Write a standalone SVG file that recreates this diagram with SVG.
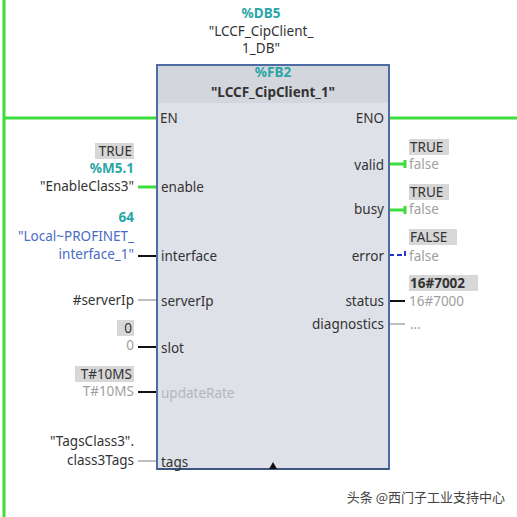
<svg xmlns="http://www.w3.org/2000/svg" width="517" height="517" viewBox="0 0 517 517">
<style>
text{font-family:"Noto Sans","Liberation Sans",sans-serif;font-size:13.5px;fill:#333}
.r{text-anchor:end}
.m{text-anchor:middle}
.teal{fill:#2aa6a6}
.blue{fill:#4a6cc4}
.gray{fill:#a0a0a0}
.dis{fill:#b4b6bc}
.box{fill:#d7d7d7}
.g{stroke:#3ddc3d;stroke-width:3;fill:none}
.k{stroke:#111;stroke-width:2;fill:none}
.lg{stroke:#a8a8a8;stroke-width:1.5;fill:none}
.bl{stroke:#2233cc;stroke-width:2;fill:none}
</style>
<rect width="517" height="517" fill="#fff"/>
<g id="connectors">
<line class="g" x1="4" y1="0" x2="4" y2="517"/>
<line class="g" x1="4" y1="118" x2="157" y2="118"/>
<line class="g" x1="389" y1="118" x2="517" y2="118"/>
<line class="g" x1="138" y1="187" x2="157" y2="187"/>
<line class="k" x1="138" y1="256" x2="157" y2="256"/>
<line class="lg" x1="138" y1="300" x2="157" y2="300"/>
<line class="k" x1="138" y1="347" x2="157" y2="347"/>
<line class="k" x1="138" y1="392" x2="157" y2="392"/>
<line class="lg" x1="138" y1="461" x2="157" y2="461"/>
<path class="g" d="M389 164H405M405 160V168"/>
<path class="g" d="M389 210H405M405 206V214"/>
<path class="bl" d="M389 255H405M405 251V259" stroke-dasharray="5 3"/>
<line class="k" x1="389" y1="301" x2="405" y2="301"/>
<line class="lg" x1="389" y1="324" x2="405" y2="324"/>
</g>
<g id="block">
<rect x="157" y="65" width="232" height="404" fill="#dfe1e8" stroke="#4d6ca3" stroke-width="2"/>
<rect x="158" y="66" width="230" height="37" fill="#d3d6dd"/>
<line x1="157" y1="469" x2="389" y2="469" stroke="#3f5585" stroke-width="2"/>
<text class="teal m" x="273" y="77" font-weight="bold">%FB2</text>
<text class="m" x="273" y="97" font-weight="bold">"LCCF_CipClient_1"</text>
<text x="160" y="123">EN</text>
<text class="r" x="384" y="123">ENO</text>
<text x="161" y="192">enable</text>
<text x="161" y="261">interface</text>
<text x="161" y="306">serverIp</text>
<text x="161" y="353">slot</text>
<text class="dis" x="161" y="398">updateRate</text>
<text x="161" y="467">tags</text>
<text class="r" x="384" y="170">valid</text>
<text class="r" x="384" y="214">busy</text>
<text class="r" x="384" y="261">error</text>
<text class="r" x="384" y="306">status</text>
<text class="r" x="384" y="329">diagnostics</text>
<path d="M269 469L273 462L277 469Z" fill="#111"/>
</g>
<g id="instance-db">
<text class="teal m" x="261" y="18" font-weight="bold">%DB5</text>
<text class="m" x="261" y="36">"LCCF_CipClient_</text>
<text class="m" x="261" y="53">1_DB"</text>
</g>
<g id="in-enable">
<rect class="box" x="95" y="143" width="39" height="16"/>
<text class="r" x="132" y="156">TRUE</text>
<text class="teal r" x="134" y="173" font-weight="bold">%M5.1</text>
<text class="r" x="134" y="191">"EnableClass3"</text>
</g>
<g id="in-interface">
<text class="teal r" x="134" y="222" font-weight="bold">64</text>
<text class="blue r" x="134" y="241">"Local~PROFINET_</text>
<text class="blue r" x="134" y="259">interface_1"</text>
</g>
<g id="in-serverIp">
<text class="r" x="134" y="305">#serverIp</text>
</g>
<g id="in-slot">
<rect class="box" x="117" y="320" width="17" height="16"/>
<text class="r" x="132" y="333">0</text>
<text class="gray r" x="134" y="350">0</text>
</g>
<g id="in-updateRate">
<rect class="box" x="75" y="366" width="59" height="16"/>
<text class="r" x="132" y="379">T#10MS</text>
<text class="gray r" x="134" y="396">T#10MS</text>
</g>
<g id="in-tags">
<text class="r" x="134" y="446">"TagsClass3".</text>
<text class="r" x="134" y="465">class3Tags</text>
</g>
<g id="out-valid">
<rect class="box" x="409" y="139" width="40" height="16"/>
<text x="410" y="152">TRUE</text>
<text class="gray" x="409" y="169">false</text>
</g>
<g id="out-busy">
<rect class="box" x="409" y="184" width="40" height="16"/>
<text x="410" y="197">TRUE</text>
<text class="gray" x="409" y="214">false</text>
</g>
<g id="out-error">
<rect class="box" x="409" y="229" width="48" height="16"/>
<text x="410" y="242">FALSE</text>
<text class="gray" x="409" y="261">false</text>
</g>
<g id="out-status">
<rect class="box" x="409" y="275" width="69" height="16"/>
<text x="410" y="288" font-weight="bold">16#7002</text>
<text class="gray" x="409" y="306">16#7000</text>
</g>
<g id="out-diagnostics">
<text class="gray" x="410" y="329">...</text>
</g>
<text x="505" y="502" class="r" style="font-family:'Noto Sans CJK SC','Noto Sans',sans-serif;font-size:13px;fill:#444">头条 @西门子工业支持中心</text>
</svg>
